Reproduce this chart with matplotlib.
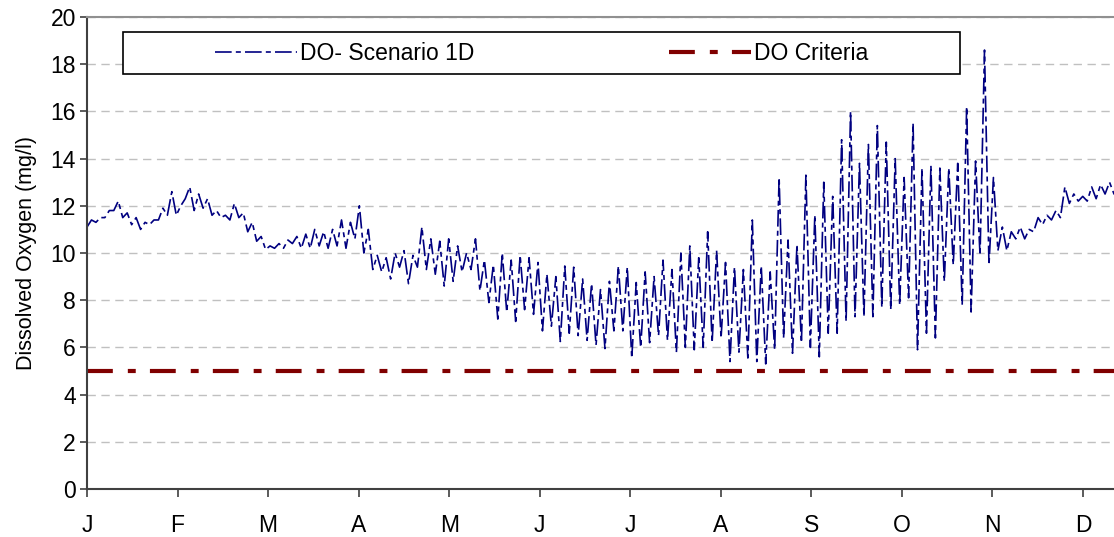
"""Dissolved oxygen, scenario 1D, against the DO criteria
"""
import matplotlib
matplotlib.use("Agg")
import matplotlib.pyplot as plt
from matplotlib.patches import Rectangle
import numpy as np

################################################################################
# daily low / high DO (mg/l) read every 3 days, starting 1 Jan
do_low = [11.1, 11.3, 11.5, 11.8, 11.5, 11.2, 11.0, 11.2, 11.4, 11.6,
          11.6, 12.3, 11.8, 11.9, 11.6, 11.5, 11.4, 11.5, 10.9, 10.5,
          10.15, 10.2, 10.2, 10.4, 10.2, 10.2, 10.3, 10.2, 10.3, 10.2,
          10.6, 10.0, 9.3, 9.2, 8.9, 9.4, 8.7, 9.4, 9.3, 9.1,
          8.6, 8.8, 9.2, 9.3, 8.4, 7.9, 7.2, 7.5, 7.1, 7.6,
          7.4, 6.7, 6.9, 6.25, 6.6, 6.5, 6.3, 6.1, 5.95, 6.7,
          6.7, 5.55, 6.0, 6.2, 6.5, 6.3, 5.8, 6.0, 5.9, 6.0,
          6.2, 6.4, 5.4, 5.8, 5.55, 5.4, 5.3, 5.9, 6.4, 5.75,
          6.2, 6.0, 5.6, 6.6, 6.6, 7.1, 7.3, 7.3, 7.3, 7.7,
          7.6, 7.8, 8.1, 5.9, 6.6, 6.4, 8.8, 9.5, 7.8, 7.5,
          9.9, 9.5, 10.1, 10.1, 10.6, 10.6, 10.9, 11.2, 11.4, 11.5,
          12.1, 12.2, 12.2, 12.3, 12.5, 12.5]
do_high = [11.4, 11.5, 11.8, 12.2, 11.7, 11.5, 11.3, 11.4, 11.9, 12.6,
           12.0, 12.8, 12.5, 12.3, 11.8, 11.6, 12.1, 11.7, 11.3, 10.7,
           10.3, 10.4, 10.55, 10.7, 10.8, 11.0, 10.9, 11.0, 11.4, 11.3,
           12.0, 11.0, 9.9, 9.8, 10.0, 10.1, 9.9, 11.1, 10.6, 10.5,
           10.6, 10.3, 10.0, 10.6, 9.7, 9.5, 10.0, 9.7, 9.9, 9.8,
           9.6, 9.1, 9.0, 9.45, 9.4, 8.9, 8.7, 8.45, 8.8, 9.45,
           9.4, 8.75, 9.2, 9.0, 9.7, 9.3, 10.0, 10.3, 9.8, 10.9,
           10.1, 9.6, 9.4, 9.3, 11.4, 9.45, 9.2, 13.2, 10.55, 10.35,
           13.3, 11.6, 13.0, 12.4, 14.8, 16.0, 13.8, 14.6, 15.4, 14.7,
           14.0, 13.2, 15.5, 13.6, 13.7, 13.6, 13.6, 13.8, 16.2, 13.9,
           18.6, 13.2, 11.1, 10.9, 11.1, 11.0, 11.5, 11.6, 11.8, 12.8,
           12.5, 12.4, 12.8, 12.9, 13.0, 12.9]
do_criteria = 5.0
month_labels = ["J", "F", "M", "A", "M", "J", "J", "A", "S", "O", "N", "D"]
################################################################################

FONT = ["Liberation Sans", "DejaVu Sans"]

days = np.arange(len(do_low)) * 3.0

# alternate low / high so the daily swing shows as a zigzag
x = np.empty(2 * len(days))
y = np.empty(2 * len(days))
x[0::2] = days
x[1::2] = days + 1.5
y[0::2] = do_low
y[1::2] = do_high

fig = plt.figure(figsize=(11.14, 5.37), dpi=100)
ax = fig.add_axes([0.0781, 0.0894, 0.9219, 0.8789])

ax.plot(x, y, color="#000080", lw=1.2, linestyle=(0, (10, 2.5, 3, 2.5)),
        label="DO- Scenario 1D")
ax.axhline(do_criteria, color="#800000", lw=3.0,
           linestyle=(0, (6.2, 3.6, 1.9, 3.4)), label="DO Criteria")

ax.set_xlim(0, 345)
ax.set_ylim(0, 20)
ax.set_yticks(range(0, 21, 2))
ax.set_xticks(np.arange(12) * 365 / 12)
ax.set_xticklabels(month_labels)
ax.yaxis.grid(True, color="#c0c0c0", lw=1, linestyle=(0, (6, 4)))
ax.set_axisbelow(True)

for side in ["left", "bottom"]:
  ax.spines[side].set_color("#404040")
  ax.spines[side].set_linewidth(1.5)
ax.spines["top"].set_color("#909090")
ax.spines["top"].set_linewidth(1.5)
ax.spines["right"].set_visible(False)

ax.tick_params(axis="y", labelsize=16.5, length=5, width=1.2, color="#404040", pad=3)
ax.tick_params(axis="x", labelsize=16.5, length=6, width=1.2, color="#404040", pad=12)
for lbl in ax.get_xticklabels() + ax.get_yticklabels():
  lbl.set_fontfamily(FONT)

ax.set_ylabel("Dissolved Oxygen (mg/l)", fontsize=15.5, fontfamily=FONT, labelpad=10)

# legend box like the spreadsheet chart
ax.add_patch(Rectangle((0.035, 0.879), 0.815, 0.089, transform=ax.transAxes,
                       facecolor="white", edgecolor="black", lw=1.2, zorder=4))
leg = ax.legend(loc="center", bbox_to_anchor=(0.4425, 0.9235), ncol=2,
                frameon=False, handlelength=3.6, handletextpad=0.1,
                columnspacing=8.5, prop={"family": FONT, "size": 16.5})
leg.set_zorder(5)

fig.savefig("out.png", dpi=100)
